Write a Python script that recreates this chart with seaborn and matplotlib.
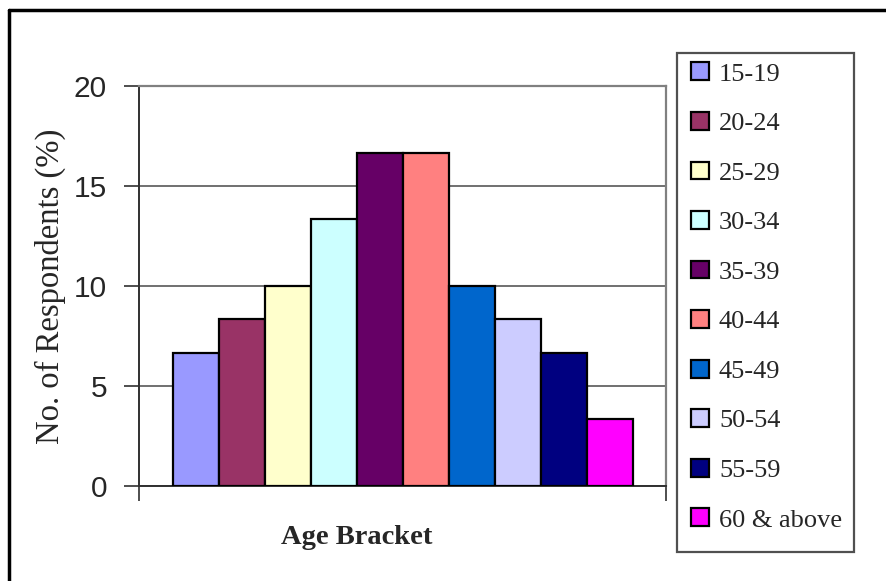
import matplotlib
matplotlib.use("Agg")
import matplotlib.pyplot as plt
from matplotlib.lines import Line2D
from matplotlib.patches import Patch, Rectangle
import seaborn as sns

brackets = ["15-19", "20-24", "25-29", "30-34", "35-39",
            "40-44", "45-49", "50-54", "55-59", "60 & above"]
respondents = [6.67, 8.33, 10.0, 13.33, 16.67, 16.67, 10.0, 8.33, 6.67, 3.33]
bar_colors = ["#9999FF", "#993366", "#FFFFCC", "#CCFFFF", "#660066",
              "#FF8080", "#0066CC", "#CCCCFF", "#000080", "#FF00FF"]
y_ticks = [0, 5, 10, 15, 20]

sns.set_style("white")
plt.rcParams["font.family"] = ["Liberation Sans", "DejaVu Sans"]
serif = ["Liberation Serif", "DejaVu Serif"]

fig = plt.figure(figsize=(8.87, 5.81), dpi=100)
ax = fig.add_axes([139 / 887, 1 - 486 / 581, 527 / 887, 400 / 581])

sns.barplot(x=brackets, y=respondents, hue=brackets, palette=bar_colors,
            width=1.0, edgecolor="black", linewidth=1.6, legend=False,
            saturation=1, ax=ax, zorder=3)

x_lo, x_hi = -1.239, 10.217
ax.set_ylim(0, 20)
ax.set_xlim(x_lo, x_hi)
ax.set_yticks(y_ticks)
ax.set_yticklabels([str(t) for t in y_ticks], fontsize=21.5)
ax.set_xticks([x_lo + 0.005, x_hi - 0.005])
ax.set_xticklabels(["", ""])
ax.tick_params(axis="y", left=True, direction="out", length=11, width=1.3,
               color="#404040", pad=12)
ax.tick_params(axis="x", bottom=True, direction="out", length=11, width=1.3,
               color="#404040")
ax.yaxis.grid(True, color="#707070", linewidth=1.4, zorder=0)
ax.set_axisbelow(True)

for side in ["left", "bottom"]:
    ax.spines[side].set_color("#303030")
    ax.spines[side].set_linewidth(1.4)
for side in ["top", "right"]:
    ax.spines[side].set_color("#808080")
    ax.spines[side].set_linewidth(1.6)
    ax.spines[side].set_visible(True)

ax.set_ylabel("No. of Respondents (%)", fontsize=23.5, family=serif)
ax.yaxis.set_label_coords(-0.138, 0.5)
ax.set_xlabel("Age Bracket", fontsize=20.5, fontweight="bold", family=serif)
ax.xaxis.set_label_coords(0.414, -0.098)

# legend box
fig.patches.append(Rectangle((677 / 887, 1 - 552 / 581), 177 / 887, 499 / 581,
                             transform=fig.transFigure, fill=False,
                             edgecolor="#505050", linewidth=1.6))
handles = [Patch(facecolor=c, edgecolor="black", linewidth=1.6) for c in bar_colors]
fig.legend(handles, brackets, loc="upper left", bbox_to_anchor=(673 / 887, 1 - 44 / 581),
           frameon=False, handlelength=0.66, handleheight=0.66,
           handletextpad=0.38, labelspacing=1.0, borderpad=0.2,
           prop={"family": serif, "size": 19})

# outer chart border
fig.add_artist(Line2D([9 / 887, 1.0], [1 - 10 / 581, 1 - 10 / 581],
                      transform=fig.transFigure, color="black", linewidth=2.5))
fig.add_artist(Line2D([9 / 887, 9 / 887], [0.0, 1 - 10 / 581],
                      transform=fig.transFigure, color="black", linewidth=2.5))

fig.savefig("out.png", dpi=100)
